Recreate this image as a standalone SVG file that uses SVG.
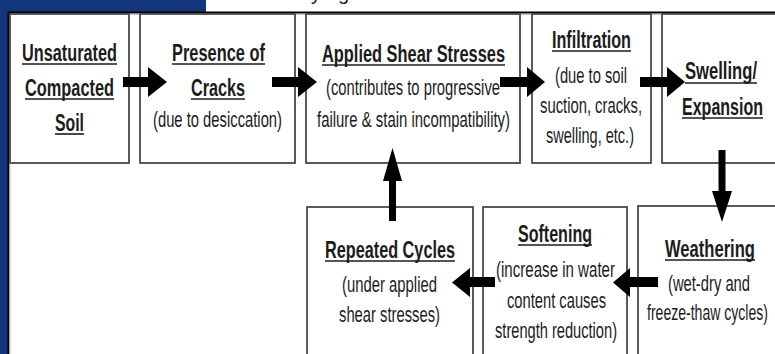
<svg xmlns="http://www.w3.org/2000/svg" width="775" height="354" viewBox="0 0 775 354">
<style>
.box{fill:#fff;stroke:#4a4a4a;stroke-width:1.8}
.t{font-family:"Liberation Sans Narrow","Liberation Sans",Arial,sans-serif;fill:#1c1c1c}
.b{font-weight:bold;font-size:23px}
.r{font-size:21.5px}
.u{stroke:#1c1c1c;stroke-width:1.6}
.ar{fill:#000}
</style>
<rect x="0" y="0" width="775" height="354" fill="#fff"/>
<rect x="0" y="0" width="206" height="12" fill="#13357b"/>
<rect x="0" y="0" width="8" height="354" fill="#13357b"/>
<text class="t" x="311" y="0" font-size="20">y</text>
<text class="t" x="338" y="0" font-size="20">g</text>
<path d="M8 12.5H775M8.5 12V354" stroke="#000" stroke-width="2" fill="none"/>
<path d="M10 14.5H775M10 14V354" stroke="#c8c8c8" stroke-width="1" fill="none"/>

<g id="n1">
<rect class="box" x="10" y="14" width="119" height="149"/>
<text class="t b" x="22" y="61" textLength="95" lengthAdjust="spacingAndGlyphs">Unsaturated</text>
<line class="u" x1="22" y1="64" x2="117" y2="64"/>
<text class="t b" x="25" y="96" textLength="89" lengthAdjust="spacingAndGlyphs">Compacted</text>
<line class="u" x1="25" y1="99" x2="114" y2="99"/>
<text class="t b" x="55" y="131" textLength="29" lengthAdjust="spacingAndGlyphs">Soil</text>
<line class="u" x1="55" y1="134" x2="84" y2="134"/>
</g>
<g id="n2">
<rect class="box" x="140" y="14" width="155" height="149"/>
<text class="t b" x="172" y="61" textLength="93" lengthAdjust="spacingAndGlyphs">Presence of</text>
<line class="u" x1="172" y1="64" x2="265" y2="64"/>
<text class="t b" x="191" y="96" textLength="54" lengthAdjust="spacingAndGlyphs">Cracks</text>
<line class="u" x1="191" y1="99" x2="245" y2="99"/>
<text class="t r" x="153" y="127" textLength="129" lengthAdjust="spacingAndGlyphs">(due to desiccation)</text>
</g>
<g id="n3">
<rect class="box" x="306" y="14" width="214" height="149"/>
<text class="t b" x="322" y="62" textLength="183" lengthAdjust="spacingAndGlyphs">Applied Shear Stresses</text>
<line class="u" x1="322" y1="65" x2="505" y2="65"/>
<text class="t r" x="326" y="95" textLength="174" lengthAdjust="spacingAndGlyphs">(contributes to progressive</text>
<text class="t r" x="317" y="127" textLength="193" lengthAdjust="spacingAndGlyphs">failure &amp; stain incompatibility)</text>
</g>
<g id="n4">
<rect class="box" x="532" y="14" width="119" height="149"/>
<text class="t b" x="552" y="48" textLength="79" lengthAdjust="spacingAndGlyphs">Infiltration</text>
<line class="u" x1="552" y1="51" x2="631" y2="51"/>
<text class="t r" x="555" y="83" textLength="72" lengthAdjust="spacingAndGlyphs">(due to soil</text>
<text class="t r" x="540" y="113" textLength="102" lengthAdjust="spacingAndGlyphs">suction, cracks,</text>
<text class="t r" x="546" y="143" textLength="88" lengthAdjust="spacingAndGlyphs">swelling, etc.)</text>
</g>
<g id="n5">
<rect class="box" x="662" y="14" width="125" height="149"/>
<text class="t b" x="685" y="79" textLength="72" lengthAdjust="spacingAndGlyphs">Swelling/</text>
<line class="u" x1="685" y1="83" x2="757" y2="83"/>
<text class="t b" x="682" y="115" textLength="81" lengthAdjust="spacingAndGlyphs">Expansion</text>
<line class="u" x1="682" y1="118" x2="763" y2="118"/>
</g>
<g id="n6">
<rect class="box" x="307" y="207" width="166" height="160"/>
<text class="t b" x="325" y="258" textLength="130" lengthAdjust="spacingAndGlyphs">Repeated Cycles</text>
<line class="u" x1="325" y1="261" x2="455" y2="261"/>
<text class="t r" x="342" y="292" textLength="95" lengthAdjust="spacingAndGlyphs">(under applied</text>
<text class="t r" x="339" y="322" textLength="101" lengthAdjust="spacingAndGlyphs">shear stresses)</text>
</g>
<g id="n7">
<rect class="box" x="483" y="207" width="144" height="160"/>
<text class="t b" x="518" y="242" textLength="74" lengthAdjust="spacingAndGlyphs">Softening</text>
<line class="u" x1="518" y1="245" x2="592" y2="245"/>
<text class="t r" x="496" y="277" textLength="119" lengthAdjust="spacingAndGlyphs">(increase in water</text>
<text class="t r" x="507" y="308" textLength="99" lengthAdjust="spacingAndGlyphs">content causes</text>
<text class="t r" x="495" y="338" textLength="122" lengthAdjust="spacingAndGlyphs">strength reduction)</text>
</g>
<g id="n8">
<rect class="box" x="638" y="206" width="150" height="160"/>
<text class="t b" x="665" y="257" textLength="90" lengthAdjust="spacingAndGlyphs">Weathering</text>
<line class="u" x1="665" y1="260" x2="755" y2="260"/>
<text class="t r" x="668" y="291" textLength="82" lengthAdjust="spacingAndGlyphs">(wet-dry and</text>
<text class="t r" x="647" y="320" textLength="121" lengthAdjust="spacingAndGlyphs">freeze-thaw cycles)</text>
</g>

<g id="connectors">
<path class="ar" d="M123 77H148V67L167 82L148 97V87H123Z"/>
<path class="ar" d="M272 77H298V67L317 82L298 97V87H272Z"/>
<path class="ar" d="M500 77H527V67L545 82L527 97V87H500Z"/>
<path class="ar" d="M640 77H667V67L685 82L667 97V87H640Z"/>
<path class="ar" d="M718.5 150H725.5V191H732L722 222L712 191H718.5Z"/>
<path class="ar" d="M658 277H630V268L613 282.5L630 297V287H658Z"/>
<path class="ar" d="M495 277H470V268L452 282.5L470 297V287H495Z"/>
<path class="ar" d="M389 221H396V181H402L392.5 148L383 181H389Z"/>
</g>
</svg>
